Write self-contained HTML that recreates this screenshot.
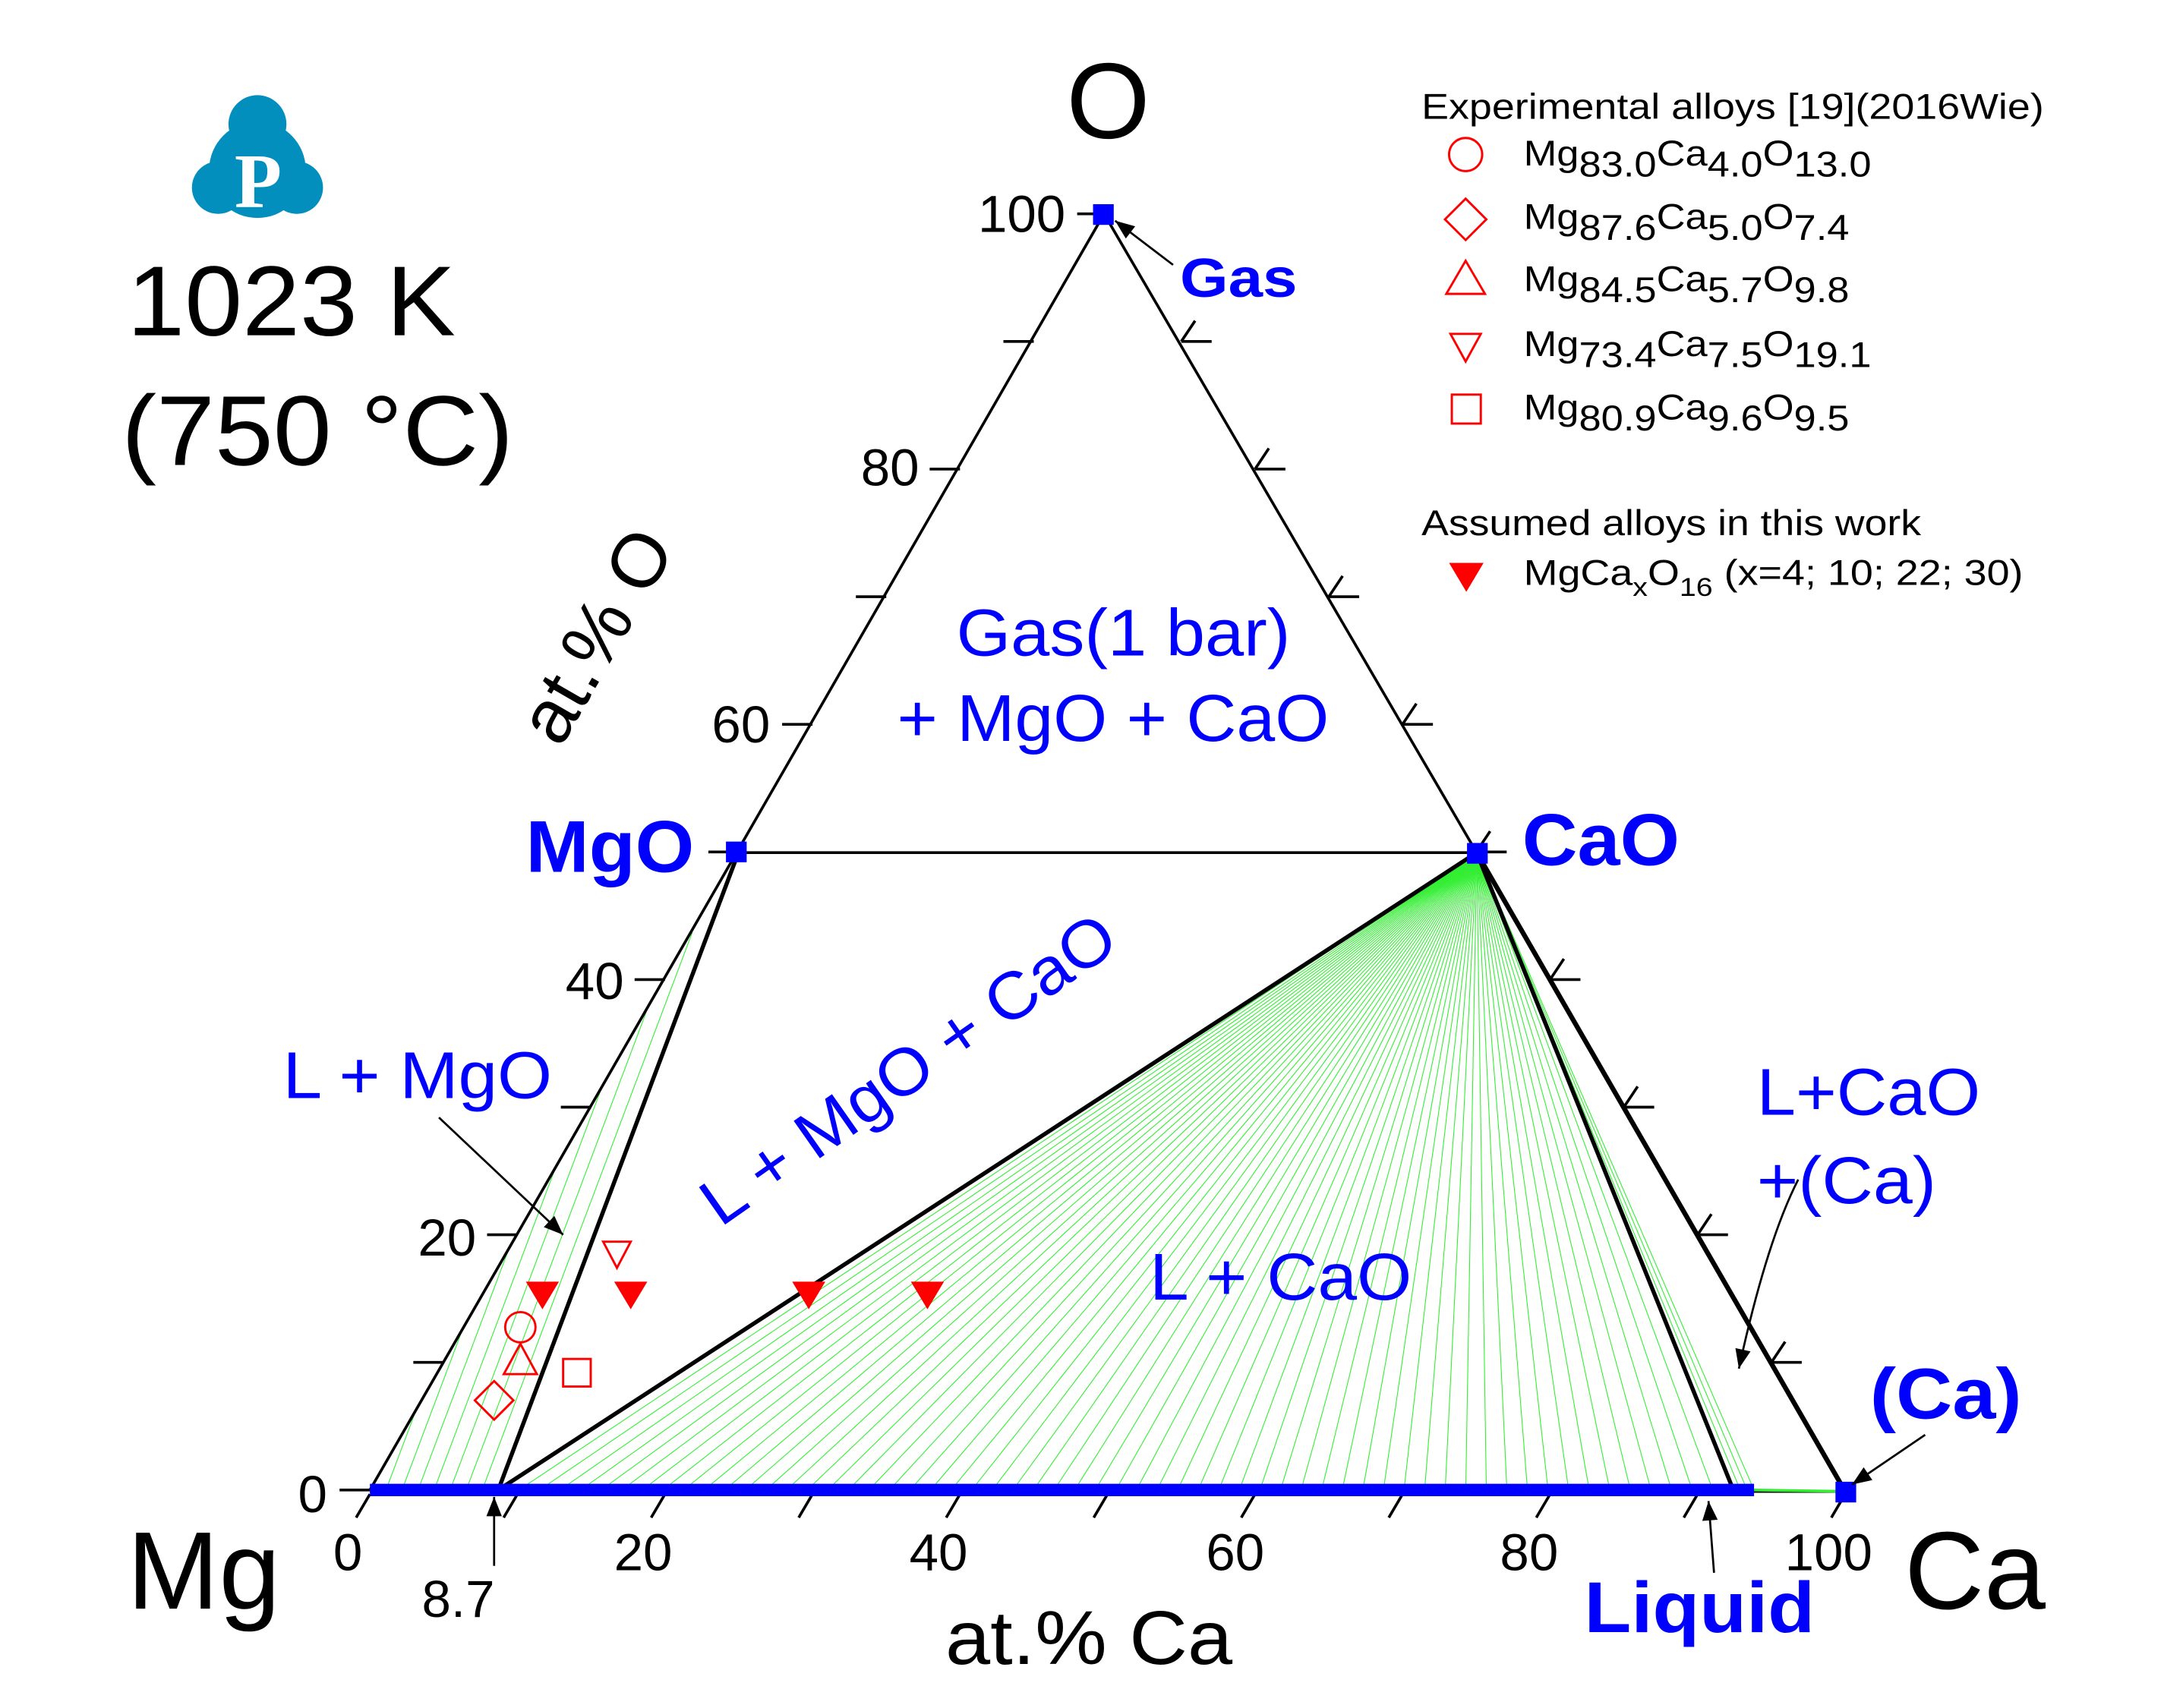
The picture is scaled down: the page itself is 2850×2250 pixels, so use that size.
<!DOCTYPE html>
<html><head><meta charset="utf-8"><style>
html,body{margin:0;padding:0;background:#fff;}
svg{display:block;}
text{font-family:"Liberation Sans",Arial,sans-serif;}
</style></head><body>
<svg id="s" width="2850" height="2250" viewBox="0 0 1568 1238" xmlns="http://www.w3.org/2000/svg">
<defs>
<marker id="ab" viewBox="0 0 10 10" refX="10" refY="5" markerWidth="22" markerHeight="14" orient="auto" markerUnits="userSpaceOnUse"><path d="M0,1 L10,5 L0,9 Z" fill="#000"/></marker>
</defs>
<g id="green" stroke="#33ee33" stroke-width="0.6" fill="none"></g>
<g stroke="#000" fill="none" stroke-width="2">
<line x1="268" y1="1080" x2="800" y2="155"/>
<line x1="800" y1="155" x2="1070" y2="618"/>
<line x1="1070" y1="618" x2="1337" y2="1081" stroke-width="3.5"/>
<line x1="535" y1="618" x2="1070" y2="618"/>
<line x1="535" y1="618" x2="361" y2="1080" stroke-width="3"/>
<line x1="361" y1="1080" x2="1070" y2="618" stroke-width="3"/>
<line x1="1070" y1="618" x2="1256" y2="1080" stroke-width="3"/>
<line x1="268" y1="1081" x2="1337" y2="1081"/>
<line x1="1271" y1="1080" x2="1337" y2="1081" stroke="#33ee33" stroke-width="2"/>
</g>
<g id="ticks" stroke="#000" stroke-width="2" fill="none"></g>
<line x1="268" y1="1080" x2="1271" y2="1080" stroke="#0000ff" stroke-width="9"/>
<rect x="792" y="148" width="15" height="15" fill="#0000ff"/>
<rect x="526" y="610" width="15" height="15" fill="#0000ff"/>
<rect x="1063" y="611" width="15" height="15" fill="#0000ff"/>
<rect x="1330" y="1074" width="15" height="15" fill="#0000ff"/>
<g font-size="38" fill="#000" text-anchor="end">
<text x="772" y="168">100</text><text x="666" y="352">80</text><text x="558" y="538">60</text><text x="452" y="724">40</text><text x="345" y="910">20</text><text x="237" y="1096">0</text>
</g>
<g font-size="38" fill="#000" text-anchor="middle">
<text x="252" y="1138">0</text><text x="466" y="1138">20</text><text x="680" y="1138">40</text><text x="895" y="1138">60</text><text x="1108" y="1138">80</text><text x="1325" y="1138">100</text>
<text x="332" y="1172">8.7</text>
</g>
<text x="803" y="100" font-size="78" text-anchor="middle">O</text>
<text x="92" y="1166" font-size="80">Mg</text>
<text x="1380" y="1166" font-size="80">Ca</text>
<text x="685" y="1206" font-size="55" textLength="208" lengthAdjust="spacingAndGlyphs">at.% Ca</text>
<text x="0" y="0" font-size="55" text-anchor="middle" transform="translate(448,470) rotate(-60)">at.% O</text>
<text x="92" y="243" font-size="72" textLength="238" lengthAdjust="spacingAndGlyphs">1023 K</text>
<text x="88" y="337" font-size="72" textLength="284" lengthAdjust="spacingAndGlyphs">(750 °C)</text>
<g fill="#038fbe"><circle cx="186.5" cy="90" r="21"/><circle cx="186.5" cy="123" r="35"/><circle cx="158" cy="136" r="19"/><circle cx="215" cy="136" r="19"/></g>
<text x="187" y="150" font-size="56" font-weight="bold" fill="#fff" text-anchor="middle" style="font-family:'Liberation Serif',serif">P</text>
<g fill="#0000ff">
<text x="855" y="215" font-size="40" font-weight="bold" textLength="85" lengthAdjust="spacingAndGlyphs">Gas</text>
<text x="693" y="475" font-size="48" textLength="242" lengthAdjust="spacingAndGlyphs">Gas(1 bar)</text>
<text x="650" y="537" font-size="48" textLength="313" lengthAdjust="spacingAndGlyphs">+ MgO + CaO</text>
<text x="381" y="632" font-size="53" font-weight="bold" textLength="122" lengthAdjust="spacingAndGlyphs">MgO</text>
<text x="1103" y="627" font-size="53" font-weight="bold" textLength="114" lengthAdjust="spacingAndGlyphs">CaO</text>
<text x="205" y="796" font-size="48" textLength="195" lengthAdjust="spacingAndGlyphs">L + MgO</text>
<text x="0" y="0" font-size="48" transform="translate(522,890) rotate(-35)" textLength="355" lengthAdjust="spacingAndGlyphs">L + MgO + CaO</text>
<text x="833" y="942" font-size="48" textLength="190" lengthAdjust="spacingAndGlyphs">L + CaO</text>
<text x="1273" y="808" font-size="48" textLength="162" lengthAdjust="spacingAndGlyphs">L+CaO</text>
<text x="1273" y="872" font-size="48" textLength="130" lengthAdjust="spacingAndGlyphs">+(Ca)</text>
<text x="1355" y="1028" font-size="52" font-weight="bold" textLength="110" lengthAdjust="spacingAndGlyphs">(Ca)</text>
<text x="1148" y="1183" font-size="52" font-weight="bold" textLength="167" lengthAdjust="spacingAndGlyphs">Liquid</text>
</g>
<g stroke="#000" stroke-width="1.5" fill="none">
<line x1="850" y1="192" x2="808" y2="160" marker-end="url(#ab)"/>
<line x1="318" y1="810" x2="408" y2="895" marker-end="url(#ab)"/>
<line x1="358" y1="1135" x2="358" y2="1085" marker-end="url(#ab)"/>
<path d="M1303,855 Q1280,900 1260,992" marker-end="url(#ab)"/>
<line x1="1395" y1="1040" x2="1342" y2="1076" marker-end="url(#ab)"/>
<line x1="1242" y1="1140" x2="1238" y2="1088" marker-end="url(#ab)"/>
</g>
<g fill="red">
<path d="M381,929 h24 l-12,20 z"/><path d="M445,929 h24 l-12,20 z"/><path d="M574,929 h24 l-12,20 z"/><path d="M660,929 h24 l-12,20 z"/>
</g>
<g fill="none" stroke="red" stroke-width="1.6">
<path d="M437,900 h20 l-10,19 z"/>
<circle cx="377" cy="962" r="11"/>
<path d="M377,974 l-12,22 h24 z"/>
<path d="M358,1001 l14,14 l-14,14 l-14,-14 z"/>
<rect x="408" y="985" width="20" height="20"/>
</g>
<g font-size="26" fill="#000">
<text x="1030" y="86" textLength="451" lengthAdjust="spacingAndGlyphs">Experimental alloys [19](2016Wie)</text>
<text x="1104" y="120" textLength="252" lengthAdjust="spacingAndGlyphs">Mg<tspan dy="8">83.0</tspan><tspan dy="-8">Ca</tspan><tspan dy="8">4.0</tspan><tspan dy="-8">O</tspan><tspan dy="8">13.0</tspan></text>
<text x="1104" y="166" textLength="236" lengthAdjust="spacingAndGlyphs">Mg<tspan dy="8">87.6</tspan><tspan dy="-8">Ca</tspan><tspan dy="8">5.0</tspan><tspan dy="-8">O</tspan><tspan dy="8">7.4</tspan></text>
<text x="1104" y="211" textLength="236" lengthAdjust="spacingAndGlyphs">Mg<tspan dy="8">84.5</tspan><tspan dy="-8">Ca</tspan><tspan dy="8">5.7</tspan><tspan dy="-8">O</tspan><tspan dy="8">9.8</tspan></text>
<text x="1104" y="258" textLength="252" lengthAdjust="spacingAndGlyphs">Mg<tspan dy="8">73.4</tspan><tspan dy="-8">Ca</tspan><tspan dy="8">7.5</tspan><tspan dy="-8">O</tspan><tspan dy="8">19.1</tspan></text>
<text x="1104" y="304" textLength="236" lengthAdjust="spacingAndGlyphs">Mg<tspan dy="8">80.9</tspan><tspan dy="-8">Ca</tspan><tspan dy="8">9.6</tspan><tspan dy="-8">O</tspan><tspan dy="8">9.5</tspan></text>
<text x="1030" y="388" textLength="362" lengthAdjust="spacingAndGlyphs">Assumed alloys in this work</text>
<text x="1104" y="424" textLength="362" lengthAdjust="spacingAndGlyphs">MgCa<tspan dy="8" font-size="19">x</tspan><tspan dy="-8">O</tspan><tspan dy="8" font-size="19">16</tspan><tspan dy="-8"> (x=4; 10; 22; 30)</tspan></text>
</g>
<g fill="none" stroke="red" stroke-width="1.6">
<circle cx="1062" cy="112" r="12"/>
<path d="M1062,144 l15,15 l-15,15 l-15,-15 z"/>
<path d="M1062,189 l-14,24 h28 z"/>
<path d="M1051,242 h22 l-11,20 z"/>
<rect x="1052" y="286" width="21" height="21"/>
</g>
<path d="M1050,408 h25 l-12.5,21 z" fill="red"/>
<script>
(function(){
var ns="http://www.w3.org/2000/svg",g=document.getElementById("green"),t=document.getElementById("ticks");
function L(p,a,b,c,d){var l=document.createElementNS(ns,"line");l.setAttribute("x1",a);l.setAttribute("y1",b);l.setAttribute("x2",c);l.setAttribute("y2",d);p.appendChild(l);}
for(var i=0;i<=60;i++){var x=361+(1256-361)*i/60;L(g,1070,618,x,1080);}
for(var i=0;i<=3;i++){var x=1256+(1271-1256)*i/3;L(g,1070,618,x,1080);}
for(var i=0;i<=8;i++){var f=i/8;var ex=268+(535-268)*f,ey=1080-(1080-618)*f;var bx=268+(361-268)*f;L(g,ex,ey,bx,1080);}
for(var i=0;i<=10;i++){var o=i*10;
 var y=1080-9.25*o;
 var lx=268+5.345*o; L(t,lx,y,lx-22,y);
 var bx=268+10.69*o; L(t,bx,1083,bx-10,1100);
 var rx=1337-5.345*o; if(o>0&&o<100){L(t,rx,y,rx+22,y);L(t,rx,y,rx+10,y-15);}
}
})();
</script>
</svg>
</body></html>
